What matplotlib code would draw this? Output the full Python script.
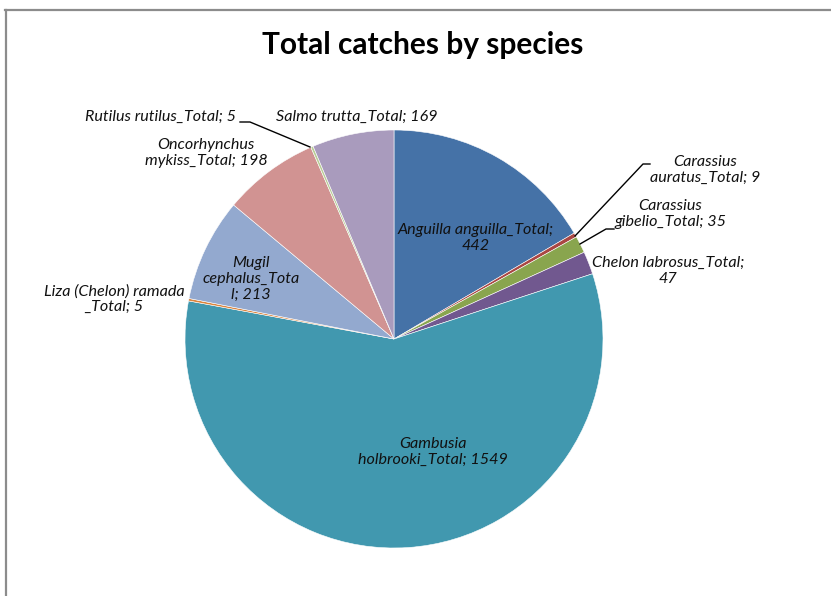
import matplotlib
matplotlib.use("Agg")
import matplotlib.pyplot as plt
from matplotlib.lines import Line2D

W, H = 831, 596

species = [
    "Anguilla anguilla", "Carassius auratus", "Carassius gibelio", "Chelon labrosus",
    "Gambusia holbrooki", "Liza (Chelon) ramada", "Mugil cephalus",
    "Oncorhynchus mykiss", "Rutilus rutilus", "Salmo trutta",
]
totals = [442, 9, 35, 47, 1549, 5, 213, 198, 5, 169]
colors = ["#4572A7", "#AA4643", "#89A54E", "#71588F", "#4198AF",
          "#DB843D", "#93A9CF", "#D19392", "#B9CD96", "#A99BBD"]
# label text as printed (Excel wraps them)
label_text = [
    "Anguilla anguilla_Total;\n442",
    "Carassius\nauratus_Total; 9",
    "Carassius\ngibelio_Total; 35",
    "Chelon labrosus_Total;\n47",
    "Gambusia\nholbrooki_Total; 1549",
    "Liza (Chelon) ramada\n_Total; 5",
    "Mugil\ncephalus_Tota\nl; 213",
    "Oncorhynchus\nmykiss_Total; 198",
    "Rutilus rutilus_Total; 5",
    "Salmo trutta_Total; 169",
]
# label anchors in pixels (x, y from top) and horizontal alignment
label_pos = [(476, 238), (705, 170), (670, 214), (668, 271), (433, 452),
             (114, 299), (251, 279), (206, 153), (236, 117), (276, 117)]
label_ha = ["center"] * 8 + ["right", "left"]

plt.rcParams["font.family"] = ["Lato", "DejaVu Sans"]

fig = plt.figure(figsize=(W / 100, H / 100), dpi=100)
ax = fig.add_axes([0, 0, 1, 1])

cx, cy, r = 394, H - 339, 209
ax.pie(totals, colors=colors, startangle=90, counterclock=False,
       center=(cx, cy), radius=r, frame=True,
       wedgeprops=dict(edgecolor="white", linewidth=0.4))
ax.set_xlim(0, W)
ax.set_ylim(0, H)
ax.set_aspect("equal")
ax.axis("off")

for txt, (x, y), ha in zip(label_text, label_pos, label_ha):
    ax.text(x, H - y, txt, ha=ha, va="center", multialignment="center",
            fontsize=11.6, style="italic", color="#111111", linespacing=1.15)

# leader lines
leaders = [
    [(575, 236), (643, 164), (650, 164)],
    [(580, 244), (606, 229), (614, 229)],
    [(310, 147), (250, 122), (240, 122)],
]
for pts in leaders:
    xs = [p[0] for p in pts]
    ys = [H - p[1] for p in pts]
    ax.add_line(Line2D(xs, ys, color="black", lw=1.0))

ax.text(W / 2 + 7, H - 45, "Total catches by species", ha="center", va="center",
        fontsize=21.5, fontweight="bold", color="black")

# chart area border (top and left visible)
ax.add_line(Line2D([5, W], [H - 9.5, H - 9.5], color="#8c8c8c", lw=1.6))
ax.add_line(Line2D([5.5, 5.5], [0, H - 9.5], color="#8c8c8c", lw=1.6))

fig.savefig("out.png", dpi=100)
